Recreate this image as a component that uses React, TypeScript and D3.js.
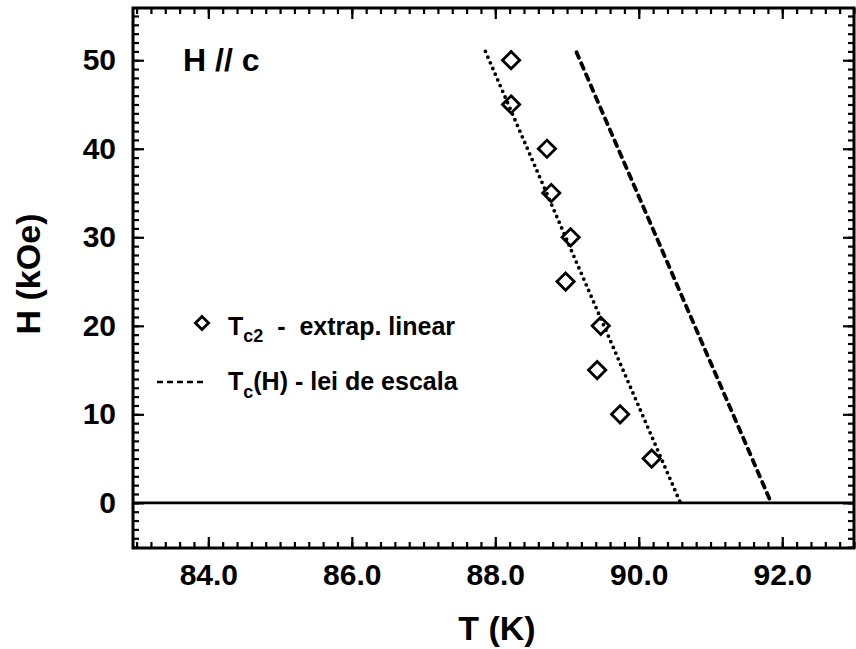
import * as d3 from "d3";
import { useRef, useEffect } from "react";

// H // c : upper critical field
const fieldH = [50, 45, 40, 35, 30, 25, 20, 15, 10, 5];
const tc2 = [88.22, 88.22, 88.72, 88.78, 89.05, 88.98, 89.47, 89.42, 89.74, 90.18];

// straight lines (end points)
const linearFitH = [0.2, 51.6];
const linearFitT = [90.57, 87.83];
const scalingLawH = [0.5, 51.3];
const scalingLawT = [91.82, 89.11];

const xTickValues = [84, 86, 88, 90, 92];
const yTickValues = [0, 10, 20, 30, 40, 50];

const FONT = "'Liberation Sans', Arial, Helvetica, sans-serif";

export default function App() {
  const svgRef = useRef<SVGSVGElement>(null);

  useEffect(() => {
    if (!svgRef.current) return;
    const svg = d3.select(svgRef.current);
    svg.selectAll("*").remove();

    const left = 133;
    const right = 854;
    const top = 8;
    const bottom = 548;

    const x = d3.scaleLinear().domain([82.95, 93.0]).range([left, right]);
    const y = d3.scaleLinear().domain([-5.1, 55.9]).range([bottom, top]);

    const xMinor = d3.range(83, 93.01, 0.2).map((v) => +v.toFixed(1));
    const yMinor = d3.range(-5, 56, 1);

    const styleAxis = (g: any) => {
      g.select(".domain").remove();
      g.selectAll("line").attr("stroke", "#000").attr("stroke-width", 2.2);
    };

    // minor ticks, all four sides, pointing inwards
    svg.append("g").attr("transform", `translate(0,${bottom})`)
      .call(d3.axisBottom(x).tickValues(xMinor).tickSize(-6).tickFormat(() => ""))
      .call(styleAxis);
    svg.append("g").attr("transform", `translate(0,${top})`)
      .call(d3.axisTop(x).tickValues(xMinor).tickSize(-6).tickFormat(() => ""))
      .call(styleAxis);
    svg.append("g").attr("transform", `translate(${left},0)`)
      .call(d3.axisLeft(y).tickValues(yMinor).tickSize(-6).tickFormat(() => ""))
      .call(styleAxis);
    svg.append("g").attr("transform", `translate(${right},0)`)
      .call(d3.axisRight(y).tickValues(yMinor).tickSize(-6).tickFormat(() => ""))
      .call(styleAxis);

    // major ticks with labels
    const xAxis = svg.append("g").attr("transform", `translate(0,${bottom})`)
      .call(d3.axisBottom(x).tickValues(xTickValues).tickSizeInner(-11).tickSizeOuter(0)
        .tickPadding(16).tickFormat((d: any) => d3.format(".1f")(d)))
      .call(styleAxis);
    xAxis.selectAll("text").attr("font-family", FONT).attr("font-size", 30)
      .attr("font-weight", "bold").attr("fill", "#000");

    const yAxis = svg.append("g").attr("transform", `translate(${left},0)`)
      .call(d3.axisLeft(y).tickValues(yTickValues).tickSizeInner(-11).tickSizeOuter(0)
        .tickPadding(17).tickFormat((d: any) => String(d)))
      .call(styleAxis);
    yAxis.selectAll("text").attr("font-family", FONT).attr("font-size", 30)
      .attr("font-weight", "bold").attr("fill", "#000");

    svg.append("g").attr("transform", `translate(0,${top})`)
      .call(d3.axisTop(x).tickValues(xTickValues).tickSize(-11).tickFormat(() => ""))
      .call(styleAxis);
    svg.append("g").attr("transform", `translate(${right},0)`)
      .call(d3.axisRight(y).tickValues(yTickValues).tickSize(-11).tickFormat(() => ""))
      .call(styleAxis);

    // frame
    svg.append("rect")
      .attr("x", left).attr("y", top)
      .attr("width", right - left).attr("height", bottom - top)
      .attr("fill", "none").attr("stroke", "#000").attr("stroke-width", 3);

    // H = 0 line
    svg.append("line")
      .attr("x1", left).attr("x2", right)
      .attr("y1", y(0)).attr("y2", y(0))
      .attr("stroke", "#000").attr("stroke-width", 2.6);

    const line = d3.line<[number, number]>()
      .x((d) => x(d[0]))
      .y((d) => y(d[1]));

    // linear extrapolation (dotted)
    svg.append("path")
      .datum(linearFitT.map((t, i) => [t, linearFitH[i]] as [number, number]))
      .attr("d", line)
      .attr("fill", "none").attr("stroke", "#000")
      .attr("stroke-width", 3.8).attr("stroke-linecap", "round")
      .attr("stroke-dasharray", "0 6.2");

    // scaling law (dashed)
    svg.append("path")
      .datum(scalingLawT.map((t, i) => [t, scalingLawH[i]] as [number, number]))
      .attr("d", line)
      .attr("fill", "none").attr("stroke", "#000")
      .attr("stroke-width", 3.8).attr("stroke-linecap", "round")
      .attr("stroke-dasharray", "6 6");

    // Tc2 points
    const diamond = d3.symbol().type(d3.symbolDiamond2).size(190);
    svg.append("g")
      .selectAll("path")
      .data(fieldH.map((h, i) => ({ h, t: tc2[i] })))
      .join("path")
      .attr("transform", (d) => `translate(${x(d.t)},${y(d.h)})`)
      .attr("d", diamond)
      .attr("fill", "none").attr("stroke", "#000").attr("stroke-width", 2.8);

    // H // c label
    svg.append("text")
      .attr("x", 183).attr("y", 71)
      .attr("font-family", FONT).attr("font-size", 32).attr("font-weight", "bold")
      .text("H // c");

    // legend
    const legend = svg.append("g").attr("font-family", FONT).attr("font-weight", "bold").attr("fill", "#000");
    legend.append("path")
      .attr("transform", "translate(202,323)")
      .attr("d", d3.symbol().type(d3.symbolDiamond2).size(110)())
      .attr("fill", "none").attr("stroke", "#000").attr("stroke-width", 2.8);
    const t1 = legend.append("text").attr("x", 228).attr("y", 335).attr("font-size", 25)
      .attr("xml:space", "preserve");
    t1.append("tspan").text("T");
    t1.append("tspan").attr("font-size", 18).attr("dy", 7).text("c2");
    t1.append("tspan").attr("dy", -7).text("  -  extrap. linear");

    legend.append("line")
      .attr("x1", 157).attr("x2", 206).attr("y1", 382).attr("y2", 382)
      .attr("stroke", "#000").attr("stroke-width", 2.4).attr("stroke-dasharray", "6 4");
    const t2 = legend.append("text").attr("x", 228).attr("y", 390).attr("font-size", 25);
    t2.append("tspan").text("T");
    t2.append("tspan").attr("font-size", 18).attr("dy", 8).text("c");
    t2.append("tspan").attr("dy", -8).text("(H) - lei de escala");

    // axis titles
    svg.append("text")
      .attr("x", 497).attr("y", 640)
      .attr("text-anchor", "middle")
      .attr("font-family", FONT).attr("font-size", 34).attr("font-weight", "bold")
      .text("T (K)");
    svg.append("text")
      .attr("transform", "translate(40,274) rotate(-90)")
      .attr("text-anchor", "middle")
      .attr("font-family", FONT).attr("font-size", 34).attr("font-weight", "bold")
      .text("H (kOe)");
  }, []);

  return (
    <svg
      ref={svgRef}
      width={856}
      height={649}
      style={{ position: "absolute", left: 0, top: 0, background: "#fff" }}
    />
  );
}
